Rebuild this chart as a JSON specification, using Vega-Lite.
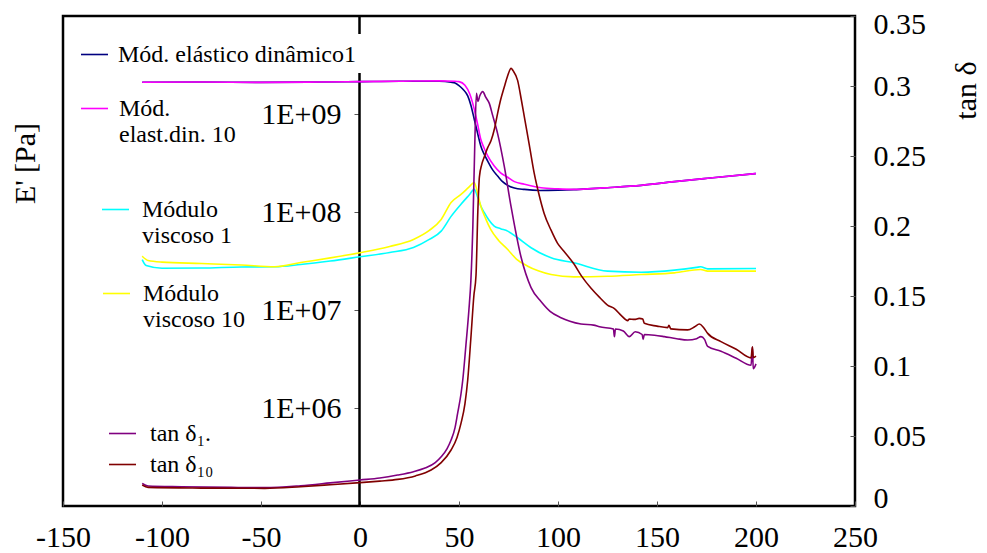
{
  "$schema": "https://vega.github.io/schema/vega-lite/v6.json",
  "width": 792,
  "height": 490,
  "autosize": "none",
  "padding": {"left": 63, "top": 16, "right": 132, "bottom": 47},
  "background": "white",
  "config": {
    "font": "Liberation Serif",
    "view": {"stroke": "black", "strokeWidth": 2.5},
    "axis": {"grid": false, "labelFont": "Liberation Serif", "labelFontSize": 30, "labelColor": "black", "titleFont": "Liberation Serif", "titleFontSize": 30, "titleFontWeight": "normal", "titleColor": "black", "tickColor": "#555", "labelOverlap": false, "labelFlush": false, "titleLimit": 0},
    "legend": {"symbolType": "stroke", "symbolSize": 729, "symbolStrokeWidth": 1.6, "labelFont": "Liberation Serif", "labelFontSize": 24, "labelColor": "black", "padding": 0, "labelLimit": 0, "orient": "none"}
  },
  "data": {"values": [
    {"s": "Mód. elástico dinâmico1", "T": -110, "v": 2.11e9},
    {"s": "Mód. elástico dinâmico1", "T": -80, "v": 2.12e9},
    {"s": "Mód. elástico dinâmico1", "T": -50, "v": 2.10e9},
    {"s": "Mód. elástico dinâmico1", "T": -20, "v": 2.12e9},
    {"s": "Mód. elástico dinâmico1", "T": 0, "v": 2.14e9},
    {"s": "Mód. elástico dinâmico1", "T": 20, "v": 2.16e9},
    {"s": "Mód. elástico dinâmico1", "T": 40, "v": 2.16e9},
    {"s": "Mód. elástico dinâmico1", "T": 46, "v": 2.11e9},
    {"s": "Mód. elástico dinâmico1", "T": 48, "v": 2.07e9},
    {"s": "Mód. elástico dinâmico1", "T": 50, "v": 1.95e9},
    {"s": "Mód. elástico dinâmico1", "T": 52, "v": 1.79e9},
    {"s": "Mód. elástico dinâmico1", "T": 54.4, "v": 1.53e9},
    {"s": "Mód. elástico dinâmico1", "T": 56, "v": 1.23e9},
    {"s": "Mód. elástico dinâmico1", "T": 57.7, "v": 8.85e8},
    {"s": "Mód. elástico dinâmico1", "T": 59.4, "v": 6.37e8},
    {"s": "Mód. elástico dinâmico1", "T": 61, "v": 4.72e8},
    {"s": "Mód. elástico dinâmico1", "T": 62.7, "v": 3.89e8},
    {"s": "Mód. elástico dinâmico1", "T": 64.5, "v": 3.31e8},
    {"s": "Mód. elástico dinâmico1", "T": 67, "v": 2.69e8},
    {"s": "Mód. elástico dinâmico1", "T": 69.5, "v": 2.33e8},
    {"s": "Mód. elástico dinâmico1", "T": 72, "v": 2.04e8},
    {"s": "Mód. elástico dinâmico1", "T": 74.6, "v": 1.87e8},
    {"s": "Mód. elástico dinâmico1", "T": 78, "v": 1.76e8},
    {"s": "Mód. elástico dinâmico1", "T": 83, "v": 1.70e8},
    {"s": "Mód. elástico dinâmico1", "T": 91, "v": 1.66e8},
    {"s": "Mód. elástico dinâmico1", "T": 100, "v": 1.67e8},
    {"s": "Mód. elástico dinâmico1", "T": 108, "v": 1.69e8},
    {"s": "Mód. elástico dinâmico1", "T": 117, "v": 1.73e8},
    {"s": "Mód. elástico dinâmico1", "T": 125, "v": 1.77e8},
    {"s": "Mód. elástico dinâmico1", "T": 142, "v": 1.87e8},
    {"s": "Mód. elástico dinâmico1", "T": 158.8, "v": 2.04e8},
    {"s": "Mód. elástico dinâmico1", "T": 175.6, "v": 2.21e8},
    {"s": "Mód. elástico dinâmico1", "T": 200, "v": 2.47e8},

    {"s": "Mód. elast.din. 10", "T": -110, "v": 2.11e9},
    {"s": "Mód. elast.din. 10", "T": -80, "v": 2.12e9},
    {"s": "Mód. elast.din. 10", "T": -50, "v": 2.10e9},
    {"s": "Mód. elast.din. 10", "T": -20, "v": 2.12e9},
    {"s": "Mód. elast.din. 10", "T": 0, "v": 2.14e9},
    {"s": "Mód. elast.din. 10", "T": 20, "v": 2.16e9},
    {"s": "Mód. elast.din. 10", "T": 40, "v": 2.18e9},
    {"s": "Mód. elast.din. 10", "T": 48, "v": 2.16e9},
    {"s": "Mód. elast.din. 10", "T": 50, "v": 2.14e9},
    {"s": "Mód. elast.din. 10", "T": 53, "v": 1.97e9},
    {"s": "Mód. elast.din. 10", "T": 55.5, "v": 1.59e9},
    {"s": "Mód. elast.din. 10", "T": 57.7, "v": 1.12e9},
    {"s": "Mód. elast.din. 10", "T": 59.4, "v": 7.87e8},
    {"s": "Mód. elast.din. 10", "T": 61, "v": 5.52e8},
    {"s": "Mód. elast.din. 10", "T": 62.7, "v": 4.47e8},
    {"s": "Mód. elast.din. 10", "T": 64.5, "v": 3.73e8},
    {"s": "Mód. elast.din. 10", "T": 67.8, "v": 2.94e8},
    {"s": "Mód. elast.din. 10", "T": 71, "v": 2.51e8},
    {"s": "Mód. elast.din. 10", "T": 74.6, "v": 2.26e8},
    {"s": "Mód. elast.din. 10", "T": 78, "v": 2.04e8},
    {"s": "Mód. elast.din. 10", "T": 83, "v": 1.92e8},
    {"s": "Mód. elast.din. 10", "T": 91.4, "v": 1.77e8},
    {"s": "Mód. elast.din. 10", "T": 100, "v": 1.72e8},
    {"s": "Mód. elast.din. 10", "T": 108, "v": 1.70e8},
    {"s": "Mód. elast.din. 10", "T": 117, "v": 1.73e8},
    {"s": "Mód. elast.din. 10", "T": 125, "v": 1.77e8},
    {"s": "Mód. elast.din. 10", "T": 142, "v": 1.87e8},
    {"s": "Mód. elast.din. 10", "T": 158.8, "v": 2.04e8},
    {"s": "Mód. elast.din. 10", "T": 175.6, "v": 2.21e8},
    {"s": "Mód. elast.din. 10", "T": 200, "v": 2.47e8},

    {"s": "Módulo viscoso 1", "T": -110, "v": 3.27e7},
    {"s": "Módulo viscoso 1", "T": -108, "v": 2.84e7},
    {"s": "Módulo viscoso 1", "T": -100, "v": 2.67e7},
    {"s": "Módulo viscoso 1", "T": -80, "v": 2.68e7},
    {"s": "Módulo viscoso 1", "T": -60, "v": 2.75e7},
    {"s": "Módulo viscoso 1", "T": -43, "v": 2.76e7},
    {"s": "Módulo viscoso 1", "T": -30, "v": 2.91e7},
    {"s": "Módulo viscoso 1", "T": -15, "v": 3.16e7},
    {"s": "Módulo viscoso 1", "T": 0, "v": 3.49e7},
    {"s": "Módulo viscoso 1", "T": 15, "v": 3.86e7},
    {"s": "Módulo viscoso 1", "T": 27, "v": 4.35e7},
    {"s": "Módulo viscoso 1", "T": 35, "v": 5.25e7},
    {"s": "Módulo viscoso 1", "T": 41, "v": 6.38e7},
    {"s": "Módulo viscoso 1", "T": 46, "v": 9.02e7},
    {"s": "Módulo viscoso 1", "T": 51, "v": 1.20e8},
    {"s": "Módulo viscoso 1", "T": 55, "v": 1.48e8},
    {"s": "Módulo viscoso 1", "T": 57.7, "v": 1.70e8},
    {"s": "Módulo viscoso 1", "T": 59.5, "v": 1.41e8},
    {"s": "Módulo viscoso 1", "T": 61, "v": 1.15e8},
    {"s": "Módulo viscoso 1", "T": 62.8, "v": 9.84e7},
    {"s": "Módulo viscoso 1", "T": 65, "v": 8.32e7},
    {"s": "Módulo viscoso 1", "T": 67.8, "v": 7.18e7},
    {"s": "Módulo viscoso 1", "T": 71, "v": 6.76e7},
    {"s": "Módulo viscoso 1", "T": 74.6, "v": 6.38e7},
    {"s": "Módulo viscoso 1", "T": 79.6, "v": 5.46e7},
    {"s": "Módulo viscoso 1", "T": 86.4, "v": 4.32e7},
    {"s": "Módulo viscoso 1", "T": 96.5, "v": 3.41e7},
    {"s": "Módulo viscoso 1", "T": 108, "v": 3.03e7},
    {"s": "Módulo viscoso 1", "T": 125, "v": 2.49e7},
    {"s": "Módulo viscoso 1", "T": 142, "v": 2.43e7},
    {"s": "Módulo viscoso 1", "T": 158.8, "v": 2.55e7},
    {"s": "Módulo viscoso 1", "T": 170, "v": 2.72e7},
    {"s": "Módulo viscoso 1", "T": 172, "v": 2.76e7},
    {"s": "Módulo viscoso 1", "T": 175.6, "v": 2.63e7},
    {"s": "Módulo viscoso 1", "T": 200, "v": 2.65e7},

    {"s": "Módulo viscoso 10", "T": -110, "v": 3.54e7},
    {"s": "Módulo viscoso 10", "T": -107, "v": 3.20e7},
    {"s": "Módulo viscoso 10", "T": -100, "v": 3.08e7},
    {"s": "Módulo viscoso 10", "T": -80, "v": 2.98e7},
    {"s": "Módulo viscoso 10", "T": -60, "v": 2.88e7},
    {"s": "Módulo viscoso 10", "T": -43, "v": 2.76e7},
    {"s": "Módulo viscoso 10", "T": -30, "v": 3.05e7},
    {"s": "Módulo viscoso 10", "T": -15, "v": 3.40e7},
    {"s": "Módulo viscoso 10", "T": 0, "v": 3.84e7},
    {"s": "Módulo viscoso 10", "T": 15, "v": 4.45e7},
    {"s": "Módulo viscoso 10", "T": 27, "v": 5.25e7},
    {"s": "Módulo viscoso 10", "T": 35, "v": 6.49e7},
    {"s": "Módulo viscoso 10", "T": 41, "v": 8.39e7},
    {"s": "Módulo viscoso 10", "T": 46, "v": 1.25e8},
    {"s": "Módulo viscoso 10", "T": 51, "v": 1.51e8},
    {"s": "Módulo viscoso 10", "T": 55, "v": 1.79e8},
    {"s": "Módulo viscoso 10", "T": 57.7, "v": 2.00e8},
    {"s": "Módulo viscoso 10", "T": 59.5, "v": 1.51e8},
    {"s": "Módulo viscoso 10", "T": 61, "v": 1.15e8},
    {"s": "Módulo viscoso 10", "T": 63.5, "v": 8.51e7},
    {"s": "Módulo viscoso 10", "T": 66, "v": 6.64e7},
    {"s": "Módulo viscoso 10", "T": 70, "v": 5.13e7},
    {"s": "Módulo viscoso 10", "T": 74.6, "v": 4.15e7},
    {"s": "Módulo viscoso 10", "T": 79, "v": 3.31e7},
    {"s": "Módulo viscoso 10", "T": 84.7, "v": 2.80e7},
    {"s": "Módulo viscoso 10", "T": 90, "v": 2.51e7},
    {"s": "Módulo viscoso 10", "T": 96.5, "v": 2.30e7},
    {"s": "Módulo viscoso 10", "T": 108, "v": 2.18e7},
    {"s": "Módulo viscoso 10", "T": 125, "v": 2.21e7},
    {"s": "Módulo viscoso 10", "T": 142, "v": 2.30e7},
    {"s": "Módulo viscoso 10", "T": 158.8, "v": 2.39e7},
    {"s": "Módulo viscoso 10", "T": 172, "v": 2.59e7},
    {"s": "Módulo viscoso 10", "T": 175.6, "v": 2.49e7},
    {"s": "Módulo viscoso 10", "T": 200, "v": 2.49e7},

    {"s": "tan δ1.", "T": -110, "v": 0.0162},
    {"s": "tan δ1.", "T": -107, "v": 0.0143},
    {"s": "tan δ1.", "T": -90, "v": 0.0138},
    {"s": "tan δ1.", "T": -65, "v": 0.0133},
    {"s": "tan δ1.", "T": -48, "v": 0.0131},
    {"s": "tan δ1.", "T": -30, "v": 0.0145},
    {"s": "tan δ1.", "T": -15, "v": 0.0165},
    {"s": "tan δ1.", "T": 0, "v": 0.0186},
    {"s": "tan δ1.", "T": 10, "v": 0.020},
    {"s": "tan δ1.", "T": 19, "v": 0.0221},
    {"s": "tan δ1.", "T": 27, "v": 0.0245},
    {"s": "tan δ1.", "T": 32.5, "v": 0.0269},
    {"s": "tan δ1.", "T": 38, "v": 0.031},
    {"s": "tan δ1.", "T": 41, "v": 0.0352},
    {"s": "tan δ1.", "T": 44, "v": 0.041},
    {"s": "tan δ1.", "T": 46, "v": 0.0471},
    {"s": "tan δ1.", "T": 48, "v": 0.056},
    {"s": "tan δ1.", "T": 49.3, "v": 0.0662},
    {"s": "tan δ1.", "T": 51, "v": 0.08},
    {"s": "tan δ1.", "T": 51.9, "v": 0.09},
    {"s": "tan δ1.", "T": 53.5, "v": 0.115},
    {"s": "tan δ1.", "T": 55, "v": 0.14},
    {"s": "tan δ1.", "T": 56, "v": 0.161},
    {"s": "tan δ1.", "T": 57, "v": 0.20},
    {"s": "tan δ1.", "T": 58, "v": 0.26},
    {"s": "tan δ1.", "T": 58.8, "v": 0.2948},
    {"s": "tan δ1.", "T": 59.6, "v": 0.289},
    {"s": "tan δ1.", "T": 60.5, "v": 0.293},
    {"s": "tan δ1.", "T": 62, "v": 0.296},
    {"s": "tan δ1.", "T": 63.5, "v": 0.292},
    {"s": "tan δ1.", "T": 65.3, "v": 0.2876},
    {"s": "tan δ1.", "T": 67, "v": 0.279},
    {"s": "tan δ1.", "T": 69.5, "v": 0.266},
    {"s": "tan δ1.", "T": 72.9, "v": 0.2424},
    {"s": "tan δ1.", "T": 76.3, "v": 0.2138},
    {"s": "tan δ1.", "T": 81.3, "v": 0.178},
    {"s": "tan δ1.", "T": 86.4, "v": 0.156},
    {"s": "tan δ1.", "T": 91.4, "v": 0.146},
    {"s": "tan δ1.", "T": 96, "v": 0.139},
    {"s": "tan δ1.", "T": 101.5, "v": 0.1345},
    {"s": "tan δ1.", "T": 106, "v": 0.132},
    {"s": "tan δ1.", "T": 111.6, "v": 0.13},
    {"s": "tan δ1.", "T": 118, "v": 0.1292},
    {"s": "tan δ1.", "T": 121, "v": 0.128},
    {"s": "tan δ1.", "T": 128, "v": 0.1264},
    {"s": "tan δ1.", "T": 128.5, "v": 0.121},
    {"s": "tan δ1.", "T": 129, "v": 0.1264},
    {"s": "tan δ1.", "T": 133, "v": 0.125},
    {"s": "tan δ1.", "T": 136, "v": 0.121},
    {"s": "tan δ1.", "T": 139, "v": 0.1245},
    {"s": "tan δ1.", "T": 142.5, "v": 0.1225},
    {"s": "tan δ1.", "T": 143, "v": 0.119},
    {"s": "tan δ1.", "T": 143.6, "v": 0.1225},
    {"s": "tan δ1.", "T": 148.7, "v": 0.122},
    {"s": "tan δ1.", "T": 153.7, "v": 0.121},
    {"s": "tan δ1.", "T": 160, "v": 0.1195},
    {"s": "tan δ1.", "T": 165.5, "v": 0.1186},
    {"s": "tan δ1.", "T": 170, "v": 0.1195},
    {"s": "tan δ1.", "T": 172.2, "v": 0.121},
    {"s": "tan δ1.", "T": 174, "v": 0.119},
    {"s": "tan δ1.", "T": 175.6, "v": 0.114},
    {"s": "tan δ1.", "T": 182.3, "v": 0.1105},
    {"s": "tan δ1.", "T": 190, "v": 0.1055},
    {"s": "tan δ1.", "T": 197.5, "v": 0.1005},
    {"s": "tan δ1.", "T": 198.2, "v": 0.1135},
    {"s": "tan δ1.", "T": 198.6, "v": 0.098},
    {"s": "tan δ1.", "T": 200, "v": 0.1015},

    {"s": "tan δ10", "T": -110, "v": 0.015},
    {"s": "tan δ10", "T": -107, "v": 0.0133},
    {"s": "tan δ10", "T": -80, "v": 0.0128},
    {"s": "tan δ10", "T": -48, "v": 0.0126},
    {"s": "tan δ10", "T": -30, "v": 0.0138},
    {"s": "tan δ10", "T": -15, "v": 0.0152},
    {"s": "tan δ10", "T": 0, "v": 0.0167},
    {"s": "tan δ10", "T": 10, "v": 0.0178},
    {"s": "tan δ10", "T": 19, "v": 0.019},
    {"s": "tan δ10", "T": 28, "v": 0.0215},
    {"s": "tan δ10", "T": 35.9, "v": 0.0257},
    {"s": "tan δ10", "T": 41, "v": 0.031},
    {"s": "tan δ10", "T": 46, "v": 0.04},
    {"s": "tan δ10", "T": 49, "v": 0.049},
    {"s": "tan δ10", "T": 51, "v": 0.059},
    {"s": "tan δ10", "T": 53, "v": 0.073},
    {"s": "tan δ10", "T": 54.4, "v": 0.09},
    {"s": "tan δ10", "T": 56, "v": 0.12},
    {"s": "tan δ10", "T": 57.5, "v": 0.15},
    {"s": "tan δ10", "T": 58.6, "v": 0.165},
    {"s": "tan δ10", "T": 59.5, "v": 0.21},
    {"s": "tan δ10", "T": 60.3, "v": 0.235},
    {"s": "tan δ10", "T": 61.5, "v": 0.244},
    {"s": "tan δ10", "T": 62.8, "v": 0.2495},
    {"s": "tan δ10", "T": 64.5, "v": 0.256},
    {"s": "tan δ10", "T": 66.2, "v": 0.261},
    {"s": "tan δ10", "T": 68, "v": 0.27},
    {"s": "tan δ10", "T": 69.5, "v": 0.2805},
    {"s": "tan δ10", "T": 71, "v": 0.29},
    {"s": "tan δ10", "T": 72.9, "v": 0.2995},
    {"s": "tan δ10", "T": 74.5, "v": 0.307},
    {"s": "tan δ10", "T": 76.3, "v": 0.3126},
    {"s": "tan δ10", "T": 77.3, "v": 0.311},
    {"s": "tan δ10", "T": 79.6, "v": 0.304},
    {"s": "tan δ10", "T": 81.5, "v": 0.29},
    {"s": "tan δ10", "T": 83, "v": 0.278},
    {"s": "tan δ10", "T": 85.5, "v": 0.258},
    {"s": "tan δ10", "T": 88, "v": 0.2376},
    {"s": "tan δ10", "T": 90.5, "v": 0.222},
    {"s": "tan δ10", "T": 93, "v": 0.209},
    {"s": "tan δ10", "T": 96.5, "v": 0.197},
    {"s": "tan δ10", "T": 99.8, "v": 0.1876},
    {"s": "tan δ10", "T": 103, "v": 0.182},
    {"s": "tan δ10", "T": 108, "v": 0.173},
    {"s": "tan δ10", "T": 112, "v": 0.164},
    {"s": "tan δ10", "T": 116.7, "v": 0.1555},
    {"s": "tan δ10", "T": 121, "v": 0.149},
    {"s": "tan δ10", "T": 125, "v": 0.1435},
    {"s": "tan δ10", "T": 128.5, "v": 0.141},
    {"s": "tan δ10", "T": 132, "v": 0.136},
    {"s": "tan δ10", "T": 135.2, "v": 0.1324},
    {"s": "tan δ10", "T": 136, "v": 0.1336},
    {"s": "tan δ10", "T": 138.6, "v": 0.1333},
    {"s": "tan δ10", "T": 141, "v": 0.134},
    {"s": "tan δ10", "T": 142.8, "v": 0.1335},
    {"s": "tan δ10", "T": 143.6, "v": 0.1305},
    {"s": "tan δ10", "T": 150, "v": 0.1285},
    {"s": "tan δ10", "T": 155.4, "v": 0.1274},
    {"s": "tan δ10", "T": 156, "v": 0.129},
    {"s": "tan δ10", "T": 157, "v": 0.1265},
    {"s": "tan δ10", "T": 165.5, "v": 0.1258},
    {"s": "tan δ10", "T": 169, "v": 0.128},
    {"s": "tan δ10", "T": 171.4, "v": 0.13},
    {"s": "tan δ10", "T": 173.5, "v": 0.1275},
    {"s": "tan δ10", "T": 175.6, "v": 0.1233},
    {"s": "tan δ10", "T": 182.3, "v": 0.1174},
    {"s": "tan δ10", "T": 190, "v": 0.112},
    {"s": "tan δ10", "T": 197.5, "v": 0.1058},
    {"s": "tan δ10", "T": 198.2, "v": 0.1138},
    {"s": "tan δ10", "T": 198.6, "v": 0.106},
    {"s": "tan δ10", "T": 200, "v": 0.107}
  ]},
  "encoding": {
    "x": {"field": "T", "type": "quantitative",
      "scale": {"domain": [-150, 250], "nice": false, "zero": false},
      "axis": {"values": [-150, -100, -50, 0, 50, 100, 150, 200, 250], "labelExpr": "'' + datum.value", "domain": false, "tickSize": -5, "labelPadding": 21, "title": null, "labelFont": "Liberation Serif", "labelFontSize": 30}}
  },
  "layer": [
    {
      "encoding": {
        "y": {"field": "v", "type": "quantitative",
          "scale": {"type": "log", "domain": [1e5, 1e10], "nice": false},
          "axis": {"orient": "left", "offset": -296, "values": [1e6, 1e7, 1e8, 1e9], "labelExpr": "'1E+0' + format(log(datum.value)/LN10, '.0f')", "labelFont": "Liberation Serif", "labelFontSize": 30, "domain": true, "domainColor": "black", "domainWidth": 2.5, "tickSize": 5, "labelPadding": 13, "title": "E' [Pa]", "titleFont": "Liberation Serif", "titleFontSize": 30, "titleFontWeight": "normal", "titleX": -334, "titleY": 147, "titleAngle": -90, "titleAlign": "center", "titleBaseline": "middle", "titleLimit": 0}}
      },
      "layer": [
        {"transform": [{"filter": "datum.s === 'Mód. elástico dinâmico1'"}],
         "mark": {"type": "line", "strokeWidth": 1.6, "interpolate": "monotone"},
         "encoding": {"color": {"field": "s", "type": "nominal", "scale": {"range": ["#000080"]},
           "legend": {"orient": "none", "title": null, "legendX": 11, "legendY": 18, "padding": 6, "fillColor": "white", "labelOffset": 9}}}},
        {"transform": [{"filter": "datum.s === 'Mód. elast.din. 10'"}],
         "mark": {"type": "line", "strokeWidth": 1.6, "interpolate": "monotone"},
         "encoding": {"color": {"field": "s", "type": "nominal", "scale": {"range": ["#FF00FF"]},
           "legend": {"orient": "none", "title": null, "legendX": 17, "legendY": 78, "labelOffset": 10, "labelExpr": "['Mód.', 'elast.din. 10']"}}}},
        {"transform": [{"filter": "datum.s === 'Módulo viscoso 1'"}],
         "mark": {"type": "line", "strokeWidth": 1.6, "interpolate": "monotone"},
         "encoding": {"color": {"field": "s", "type": "nominal", "scale": {"range": ["#00FFFF"]},
           "legend": {"orient": "none", "title": null, "legendX": 38, "legendY": 179, "labelOffset": 12, "labelExpr": "['Módulo', 'viscoso 1']"}}}},
        {"transform": [{"filter": "datum.s === 'Módulo viscoso 10'"}],
         "mark": {"type": "line", "strokeWidth": 1.6, "interpolate": "monotone"},
         "encoding": {"color": {"field": "s", "type": "nominal", "scale": {"range": ["#FFFF00"]},
           "legend": {"orient": "none", "title": null, "legendX": 39, "legendY": 263, "labelOffset": 12, "labelExpr": "['Módulo', 'viscoso 10']"}}}}
      ],
      "resolve": {"scale": {"color": "independent"}}
    },
    {
      "encoding": {
        "y": {"field": "v", "type": "quantitative",
          "scale": {"domain": [0, 0.35], "nice": false, "zero": true},
          "axis": {"orient": "right", "values": [0, 0.05, 0.1, 0.15, 0.2, 0.25, 0.3, 0.35], "labelExpr": "format(datum.value, '~g')", "labelFont": "Liberation Serif", "labelFontSize": 30, "labelFlush": true, "labelFlushOffset": 7, "domain": false, "tickSize": -5, "labelPadding": 23, "title": "tan δ", "titleFont": "Liberation Serif", "titleFontSize": 30, "titleFontWeight": "normal", "titleX": 111, "titleY": 74, "titleAngle": -90, "titleAlign": "center", "titleBaseline": "middle", "titleLimit": 0}}
      },
      "layer": [
        {"transform": [{"filter": "datum.s === 'tan δ1.'"}],
         "mark": {"type": "line", "strokeWidth": 1.6, "interpolate": "monotone"},
         "encoding": {"color": {"field": "s", "type": "nominal", "scale": {"range": ["#800080"]},
           "legend": {"orient": "none", "title": null, "legendX": 45, "legendY": 403, "labelOffset": 13, "labelExpr": "'tan δ₁.'"}}}},
        {"transform": [{"filter": "datum.s === 'tan δ10'"}],
         "mark": {"type": "line", "strokeWidth": 1.6, "interpolate": "monotone"},
         "encoding": {"color": {"field": "s", "type": "nominal", "scale": {"range": ["#800000"]},
           "legend": {"orient": "none", "title": null, "legendX": 45, "legendY": 434, "labelOffset": 13, "labelExpr": "'tan δ₁₀'"}}}}
      ],
      "resolve": {"scale": {"color": "independent"}}
    }
  ],
  "resolve": {"scale": {"y": "independent", "color": "independent"}}
}
